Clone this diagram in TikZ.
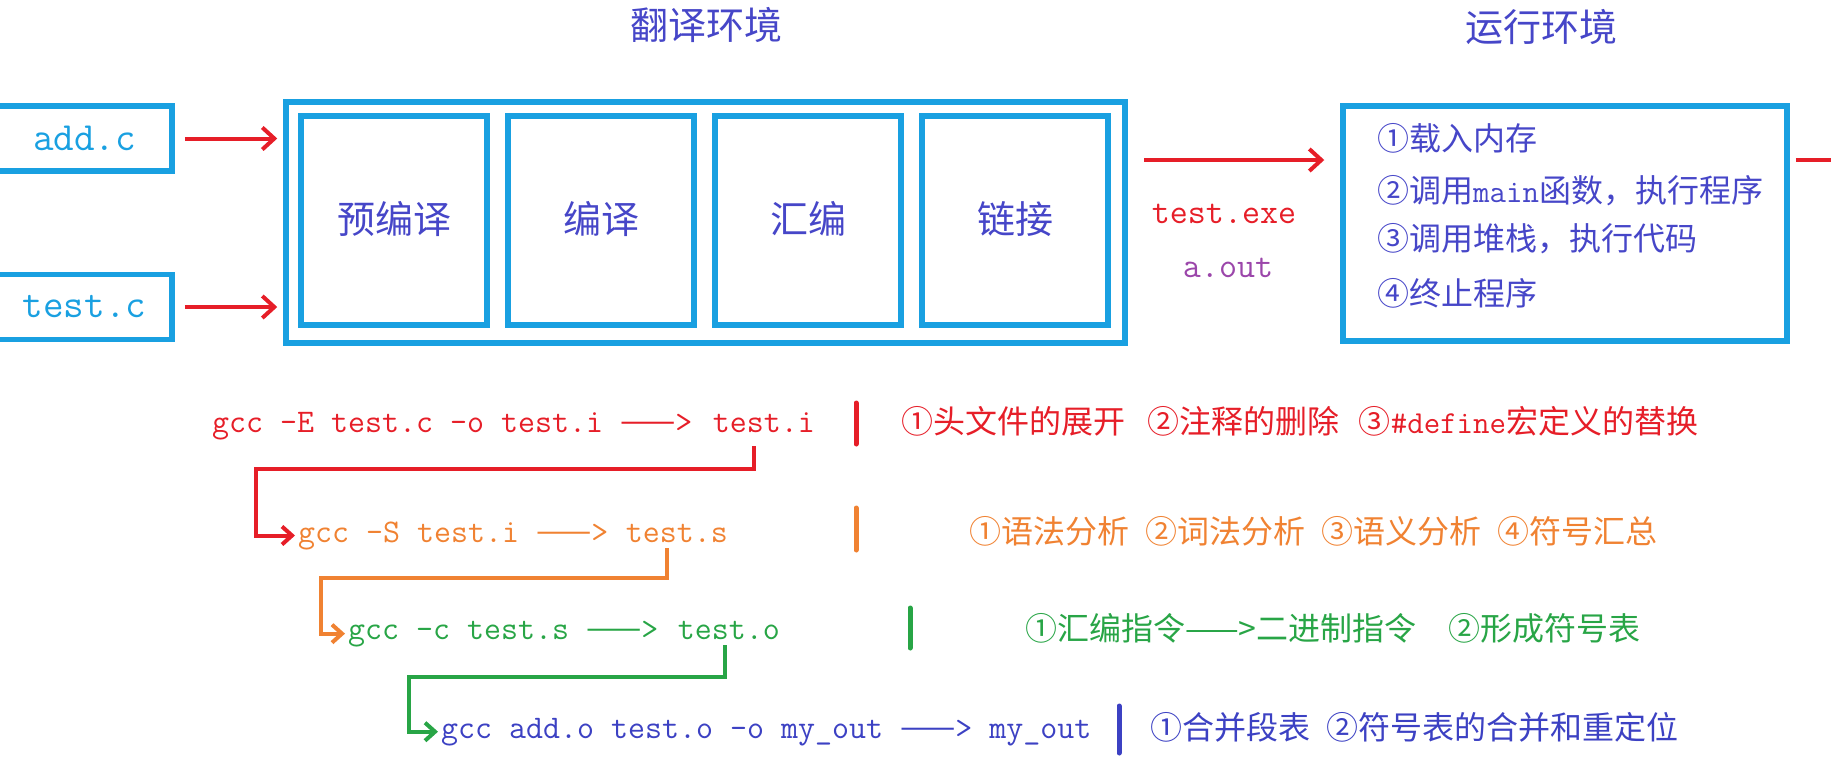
\documentclass[tikz,border=0pt]{standalone}
\usepackage{fontspec}
\setmainfont{Noto Sans CJK SC}
\usetikzlibrary{arrows.meta,positioning}

\definecolor{boxblue}{RGB}{25,160,225}
\definecolor{txtblue}{RGB}{70,70,200}
\definecolor{myred}{RGB}{230,30,40}
\definecolor{myorange}{RGB}{240,130,50}
\definecolor{mygreen}{RGB}{40,165,70}
\definecolor{myblue}{RGB}{60,65,195}
\definecolor{mypurple}{RGB}{155,70,170}

\begin{document}
\begin{tikzpicture}[x=1pt,y=-1pt,
    bluebox/.style={draw=boxblue,line width=5.5pt,inner sep=0pt},
    stage/.style={bluebox,minimum width=186pt,minimum height=209pt,text=txtblue,font=\fontsize{38}{44}\selectfont},
    srcfile/.style={bluebox,minimum width=175pt,minimum height=65pt,text=boxblue,font=\ttfamily\fontsize{40}{44}\selectfont},
    title/.style={anchor=base,inner sep=0pt,text=txtblue,font=\fontsize{38}{44}\selectfont},
    code/.style={anchor=base west,inner sep=0pt,font=\ttfamily\fontsize{33}{38}\selectfont},
    note/.style={anchor=base west,inner sep=0pt,font=\fontsize{32}{36}\selectfont},
    flow/.style={myred,line width=4pt,-{Straight Barb[length=12pt,width=22pt]}},
    link/.style={line width=4pt,-{Straight Barb[length=10pt,width=18pt]},shorten >=3pt},
    bar/.style={line width=5pt,line cap=round}]

    \useasboundingbox (0,0) rectangle (1831,764);

    % 标题
    \node[title] (t1) at (706,39) {翻译环境};
    \node[title] (t2) at (1541,41) {运行环境};

    % 源文件
    \node[srcfile] (add) at (84.5,138.5) {add.c};
    \node[srcfile] (tst) at (84.5,307) {test.c};

    % 翻译环境
    \node[bluebox,minimum width=839pt,minimum height=241pt] (trans) at (705.5,222.5) {};
    \node[stage] (s1) at (394,220.5) {\raisebox{6pt}{预编译}};
    \node[stage] (s2) at (601,220.5) {\raisebox{6pt}{编译}};
    \node[stage] (s3) at (808,220.5) {\raisebox{6pt}{汇编}};
    \node[stage] (s4) at (1015,220.5) {\raisebox{6pt}{链接}};

    \draw[flow] ([xshift=10pt]add.east) -- ([xshift=-6pt]add.east -| trans.west);
    \draw[flow] ([xshift=10pt]tst.east) -- ([xshift=-6pt]tst.east -| trans.west);

    % 运行环境
    \node[bluebox,minimum width=444pt,minimum height=235pt] (run) at (1565,223.5) {};
    \node[note,text=txtblue] (r1) at (1377,150) {①载入内存};
    \node[note,text=txtblue] (r2) at (1377,202) {②调用{\ttfamily main}函数，执行程序};
    \node[note,text=txtblue] (r3) at (1377,250) {③调用堆栈，执行代码};
    \node[note,text=txtblue] (r4) at (1377,305) {④终止程序};

    \coordinate (exe) at (1144,160);
    \draw[flow,shorten >=16pt] (exe) -- (exe -| run.west);
    \draw[myred,line width=4pt] ([xshift=6pt]exe -| run.east) -- ++(60,0);
    \node[anchor=base,inner sep=0pt,text=myred,font=\ttfamily\fontsize{35}{40}\selectfont] (exename) at (1224,223) {test.exe};
    \node[anchor=base,inner sep=0pt,text=mypurple,font=\ttfamily\fontsize{35}{40}\selectfont] (aout) at (1228,277) {a.out};

    % 各步骤命令
    \node[code,text=myred] (c1) at (212,432) {gcc -E test.c -o test.i {\rmfamily ——}>};
    \node[code,text=myred,right=20pt of c1.base east,anchor=base west] (o1) {test.i};
    \node[code,text=myorange] (c2) at (298,542) {gcc -S test.i {\rmfamily ——}>};
    \node[code,text=myorange,right=17pt of c2.base east,anchor=base west] (o2) {test.s};
    \node[code,text=mygreen] (c3) at (348,639) {gcc -c test.s {\rmfamily ——}>};
    \node[code,text=mygreen,right=19pt of c3.base east,anchor=base west] (o3) {test.o};
    \node[code,text=myblue] (c4) at (441,738) {gcc add.o test.o -o my\_out {\rmfamily ——}> my\_out};

    \draw[bar,myred] (856,403) -- (856,444);
    \draw[bar,myorange] (856,508) -- (856,550);
    \draw[bar,mygreen] (910,608) -- (910,648);
    \draw[bar,myblue] (1119,706) -- (1119,753);

    \node[note,text=myred] (d1) at (901,433) {①头文件的展开\hspace{0.7em}②注释的删除\hspace{0.6em}③{\ttfamily\#define}宏定义的替换};
    \node[note,text=myorange] (d2) at (969,543) {①语法分析\enspace ②词法分析\enspace ③语义分析\enspace ④符号汇总};
    \node[note,text=mygreen] (d3) at (1025,640) {①汇编指令——>二进制指令\quad ②形成符号表};
    \node[note,text=myblue] (d4) at (1150,739) {①合并段表\enspace ②符号表的合并和重定位};

    % 连接线
    \coordinate (k1) at (256,469);
    \coordinate (k2) at (321,578);
    \coordinate (k3) at (409,677);
    \draw[link,myred] ([shift={(-10pt,-14pt)}]o1.south) |- (k1) |- (c2.west);
    \draw[link,myorange] ([shift={(-10pt,-6pt)}]o2.south) |- (k2) |- (c3.west);
    \draw[link,mygreen] ([shift={(-4pt,-6pt)}]o3.south) |- (k3) |- (c4.west);
\end{tikzpicture}
\end{document}
